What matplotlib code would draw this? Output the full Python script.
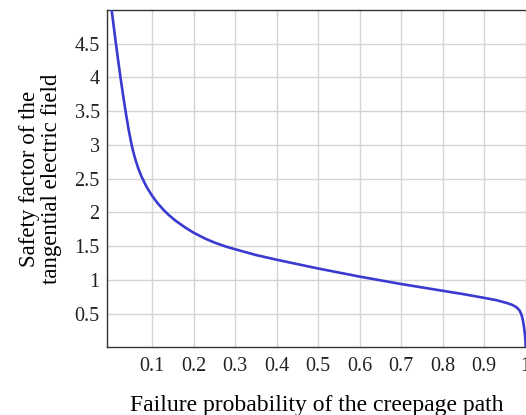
import numpy as np
import matplotlib
matplotlib.use("Agg")
import matplotlib.pyplot as plt

# values
failure_prob = [0.0024, 0.0076, 0.0128, 0.0182, 0.0238, 0.0297, 0.0360, 0.0430,
                0.0506, 0.0548, 0.0600, 0.0668, 0.0747, 0.0870, 0.1, 0.113,
                0.127, 0.14, 0.155, 0.179, 0.2, 0.227, 0.25, 0.275, 0.3, 0.35,
                0.4, 0.45, 0.5, 0.55, 0.6, 0.65, 0.7, 0.75, 0.8, 0.85, 0.9,
                0.93, 0.954, 0.968, 0.978, 0.985, 0.989, 0.992, 0.994, 0.996,
                0.998, 0.9995, 1.0]
safety_factor = [5.0, 4.75, 4.5, 4.25, 4.0, 3.75, 3.5, 3.24,
                 3.0, 2.894, 2.778, 2.65, 2.528, 2.375, 2.247, 2.139,
                 2.041, 1.963, 1.885, 1.78, 1.70, 1.615, 1.555, 1.50, 1.455, 1.37,
                 1.30, 1.235, 1.17, 1.11, 1.05, 0.995, 0.94, 0.89, 0.84, 0.79, 0.735,
                 0.70, 0.66, 0.63, 0.595, 0.55, 0.5, 0.44, 0.38, 0.30,
                 0.2, 0.1, 0.0]

x_ticks = [0.1, 0.2, 0.3, 0.4, 0.5, 0.6, 0.7, 0.8, 0.9, 1.0]
x_tick_labels = ["0.1", "0.2", "0.3", "0.4", "0.5", "0.6", "0.7", "0.8", "0.9", "1"]
y_ticks = [0.5, 1, 1.5, 2, 2.5, 3, 3.5, 4, 4.5]
y_tick_labels = ["0.5", "1", "1.5", "2", "2.5", "3", "3.5", "4", "4.5"]

plt.rcParams['font.family'] = ['Liberation Serif', 'DejaVu Serif']

fig = plt.figure(figsize=(5.26, 4.15), dpi=100)
ax = fig.add_axes([0.204, 0.1627, 0.7954, 0.8133])

ax.plot(failure_prob, safety_factor, color='#3a3ad0', lw=1.9, zorder=3,
        solid_joinstyle='round')

ax.set_xlim(-0.008, 1.0)
ax.set_ylim(0, 5)
ax.set_xticks(x_ticks)
ax.set_xticklabels(x_tick_labels)
ax.set_yticks(y_ticks)
ax.set_yticklabels(y_tick_labels)
ax.tick_params(axis='both', length=0, labelsize=14.5, colors='#222222')
ax.tick_params(axis='x', pad=6.5)
ax.tick_params(axis='y', pad=5.5)
ax.grid(True, color='#d4d4d4', lw=1.0)
ax.set_axisbelow(True)

for side in ['top', 'bottom', 'left']:
    ax.spines[side].set_color('#333333')
    ax.spines[side].set_linewidth(1.0)
ax.spines['right'].set_visible(False)

ax.set_xlabel("Failure probability of the creepage path", fontsize=17, labelpad=14)
ax.set_ylabel("Safety factor of the\ntangential electric field", fontsize=16.5,
              labelpad=9, linespacing=1.08)

fig.savefig("out.png", dpi=100)
